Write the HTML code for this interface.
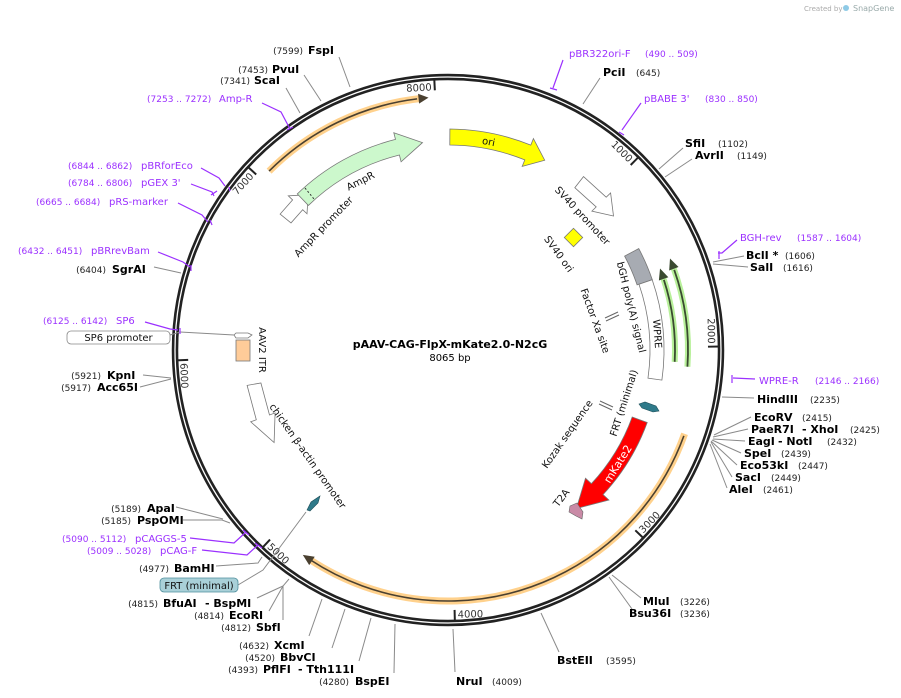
<!DOCTYPE html>
<html><head><meta charset="utf-8"><style>
html,body{margin:0;padding:0;background:#fff}
svg{display:block;font-family:"DejaVu Sans","Liberation Sans",sans-serif}
.n{font-size:9px;fill:#222}
.e{font-size:11px;font-weight:bold;fill:#000}
.p{font-size:10px;fill:#9b30ff}
.pn{font-size:9px;fill:#9b30ff}
.l{stroke:#8a8a8a;stroke-width:1;fill:none}
.pl{stroke:#9b30ff;stroke-width:1.2;fill:none}
.f{font-size:10px;fill:#111}
.t{font-size:10px;fill:#333}
</style></head><body>
<svg width="901" height="698" viewBox="0 0 901 698" xmlns="http://www.w3.org/2000/svg">
<text x="804" y="11" style="font-size:7px;fill:#aaa">Created by</text>
<text x="853" y="11" style="font-size:8px;fill:#9aa">SnapGene</text>
<circle cx="846" cy="8" r="3" fill="#8ecae6"/>

<!-- ring -->
<circle cx="448" cy="350" r="273" fill="none" stroke="#222" stroke-width="6.5"/>
<circle cx="448" cy="350" r="273" fill="none" stroke="#fff" stroke-width="1.3"/>

<!-- ticks -->
<g transform="rotate(44.64 448 350)"><line x1="448" y1="78" x2="448" y2="90" stroke="#222" stroke-width="2"/><text class="t" x="445" y="90" text-anchor="end">1000</text></g>
<g transform="rotate(89.27 448 350)"><line x1="448" y1="78" x2="448" y2="90" stroke="#222" stroke-width="2"/><text class="t" x="445" y="90" text-anchor="end">2000</text></g>
<g transform="rotate(-47.54 448 350)"><line x1="448" y1="78" x2="448" y2="90" stroke="#222" stroke-width="2"/><text class="t" x="445" y="90" text-anchor="end">7000</text></g>
<g transform="rotate(-2.9 448 350)"><line x1="448" y1="78" x2="448" y2="90" stroke="#222" stroke-width="2"/><text class="t" x="445" y="90" text-anchor="end">8000</text></g>
<g transform="rotate(133.91 448 350)"><line x1="448" y1="78" x2="448" y2="90" stroke="#222" stroke-width="2"/><text class="t" x="445" y="82" transform="rotate(180 445 82)">3000</text></g>
<g transform="rotate(178.55 448 350)"><line x1="448" y1="78" x2="448" y2="90" stroke="#222" stroke-width="2"/><text class="t" x="445" y="82" transform="rotate(180 445 82)">4000</text></g>
<g transform="rotate(223.19 448 350)"><line x1="448" y1="78" x2="448" y2="90" stroke="#222" stroke-width="2"/><text class="t" x="445" y="82" transform="rotate(180 445 82)">5000</text></g>
<g transform="rotate(267.82 448 350)"><line x1="448" y1="78" x2="448" y2="90" stroke="#222" stroke-width="2"/><text class="t" x="445" y="82" transform="rotate(180 445 82)">6000</text></g>

<!-- orange arcs -->
<circle cx="448" cy="350" r="253" fill="none" stroke="#ffd18c" stroke-width="7" pathLength="360" stroke-dasharray="39 400" transform="rotate(225 448 350)"/>
<circle cx="448" cy="350" r="253" fill="none" stroke="#4a4030" stroke-width="1.6" pathLength="360" stroke-dasharray="38 400" transform="rotate(225 448 350)"/>
<g transform="rotate(354 448 350)"><polygon points="455,97 445,92 445,102" fill="#4a4030"/></g>
<circle cx="448" cy="350" r="251" fill="none" stroke="#ffd18c" stroke-width="7" pathLength="360" stroke-dasharray="104 400" transform="rotate(19.5 448 350)"/>
<circle cx="448" cy="350" r="251" fill="none" stroke="#4a4030" stroke-width="1.6" pathLength="360" stroke-dasharray="103.5 400" transform="rotate(20 448 350)"/>
<g transform="rotate(213.5 448 350)"><polygon points="456,99 445,94 445,104" fill="#4a4030"/></g>

<!-- green arcs -->
<circle cx="448" cy="350" r="227" fill="none" stroke="#b8f09a" stroke-width="6" pathLength="360" stroke-dasharray="22 400" transform="rotate(-19 448 350)"/>
<circle cx="448" cy="350" r="227" fill="none" stroke="#3a4a30" stroke-width="1.8" pathLength="360" stroke-dasharray="21 400" transform="rotate(-18 448 350)"/>
<g transform="rotate(71 448 350)"><polygon points="440,123 451,118 451,128" fill="#3a4a30"/></g>
<circle cx="448" cy="350" r="240" fill="none" stroke="#b8f09a" stroke-width="6" pathLength="360" stroke-dasharray="24.5 400" transform="rotate(-20.5 448 350)"/>
<circle cx="448" cy="350" r="240" fill="none" stroke="#3a4a30" stroke-width="1.8" pathLength="360" stroke-dasharray="23.5 400" transform="rotate(-19.5 448 350)"/>
<g transform="rotate(69.5 448 350)"><polygon points="440,110 451,105 451,115" fill="#3a4a30"/></g>

<!-- ori -->
<path d="M449.9,129 A221 221 0 0 1 530.8,145.1 L533.4,138.6 L544.7,160.2 L522.2,166.4 L524.8,159.9 A205 205 0 0 0 449.8,145 Z" fill="#ffff00" stroke="#777" stroke-width="0.8"/>
<text class="f" x="488" y="145" text-anchor="middle" transform="rotate(11 488 145)">ori</text>

<!-- AmpR promoter + AmpR -->
<path d="M280.1,214.1 L292.6,199.9 L288.3,195.8 L308.2,194.7 L307,213.8 L302.7,209.7 L291,222.9 Z" fill="#fff" stroke="#777" stroke-width="0.8"/>
<path d="M297.3,193.9 A217 217 0 0 1 395.5,139.4 L393.8,132.7 L422.5,142.6 L401.1,161.8 L399.4,155 A201 201 0 0 0 308.4,205.4 Z" fill="#ccf8cc" stroke="#777" stroke-width="0.8"/>
<line x1="305" y1="188" x2="314" y2="199" stroke="#333" stroke-dasharray="2 2"/>
<text class="f" x="362" y="184" text-anchor="middle" transform="rotate(-27 362 184)">AmpR</text>
<text class="f" x="326" y="229" text-anchor="middle" transform="rotate(-46 326 229)">AmpR promoter</text>

<!-- SV40 promoter -->
<path d="M583.5,176.6 L606.2,197.2 L610.6,193 L613.5,216 L591.9,211.1 L596.2,206.9 L574.8,187.7 Z" fill="#fff" stroke="#777" stroke-width="0.8"/>
<text class="f" x="580" y="218" text-anchor="middle" transform="rotate(47 580 218)">SV40 promoter</text>
<rect x="567" y="231" width="13" height="13" fill="#ffff00" stroke="#777" stroke-width="0.8" transform="rotate(45 573.5 237.5)"/>
<text class="f" x="556" y="256" text-anchor="middle" transform="rotate(54 556 256)">SV40 ori</text>

<!-- bGH -->
<path d="M635.1,242 A216 216 0 0 1 649.7,272.6 L634.7,278.3 A200 200 0 0 0 621.2,250 Z" fill="#a7abb2" stroke="#777" stroke-width="0.8" transform="rotate(2 448 350)"/>
<text class="f" x="628" y="308" text-anchor="middle" transform="rotate(76 628 308)">bGH poly(A) signal</text>
<!-- WPRE -->
<path d="M652.2,279.7 A216 216 0 0 1 661.9,380.1 L648,378.1 A202 202 0 0 0 639,284.2 Z" fill="#fff" stroke="#777" stroke-width="0.8"/>
<text class="f" x="654" y="334" text-anchor="middle" transform="rotate(86 654 334)">WPRE</text>

<!-- Factor Xa, Kozak -->
<g stroke="#666" stroke-width="1"><line x1="605" y1="318" x2="618" y2="312"/><line x1="606" y1="321" x2="619" y2="315"/>
<line x1="600" y1="401" x2="613" y2="407"/><line x1="599" y1="404" x2="612" y2="410"/></g>
<text class="f" x="592" y="322" text-anchor="middle" transform="rotate(70 592 322)">Factor Xa site</text>
<text class="f" x="570" y="436" text-anchor="middle" transform="rotate(-55 570 436)">Kozak sequence</text>
<text class="f" x="627" y="404" text-anchor="middle" transform="rotate(-72 627 404)">FRT (minimal)</text>

<!-- mKate2 -->
<path d="M647.2,422.5 A212 212 0 0 1 603,494.6 L608.9,500 L576.4,508.5 L585.5,478.2 L591.4,483.7 A196 196 0 0 0 632.2,417 Z" fill="#ff0000" stroke="#777" stroke-width="0.8"/>
<polygon points="639,404 645,402 656,406 659,411 653,412 642,408" fill="#2f7a8a" stroke="#1d4e58" stroke-width="0.6"/>
<text x="621" y="466" text-anchor="middle" transform="rotate(-58 621 466)" style="font-size:11px;fill:#fff">mKate2</text>
<polygon points="570,506 577,503 583,512 582,519 576,516 569,512" fill="#c98aa6" stroke="#666" stroke-width="0.6"/>
<text class="f" x="564" y="500" text-anchor="middle" transform="rotate(-52 564 500)">T2A</text>

<!-- chicken beta-actin -->
<path d="M247.1,385.4 L256.3,419.8 L250.7,421.8 L274.1,442.5 L275.1,412.9 L269.5,415 L260.9,383 Z" fill="#fff" stroke="#777" stroke-width="0.8"/>
<text class="f" x="305" y="458" text-anchor="middle" transform="rotate(55 305 458)">chicken β-actin promoter</text>
<polygon points="307,510 311,502 320,496 318,503 310,511" fill="#2f7a8a" stroke="#1d4e58" stroke-width="0.6"/>
<polyline class="l" points="306,512 263,570 238,585"/>

<!-- AAV2 ITR -->
<polygon points="236,333 248,333 252,335 248,338 236,338 234,335" fill="#fff" stroke="#777" stroke-width="0.8"/>
<rect x="236" y="340" width="14" height="21" fill="#ffcc99" stroke="#777" stroke-width="0.8"/>
<text class="f" x="259" y="350" text-anchor="middle" transform="rotate(90 259 350)">AAV2 ITR</text>
<line class="l" x1="180" y1="332" x2="234" y2="335"/>

<!-- center -->
<text x="450" y="348" text-anchor="middle" style="font-size:11px;font-weight:bold">pAAV-CAG-FlpX-mKate2.0-N2cG</text>
<text x="450" y="361" text-anchor="middle" style="font-size:10px">8065 bp</text>

<!-- TOP LEFT labels -->
<line class="l" x1="339" y1="57" x2="350" y2="87"/>
<text class="n" x="303" y="54" text-anchor="end">(7599)</text><text class="e" x="308" y="54">FspI</text>
<line class="l" x1="304" y1="75" x2="321" y2="101"/>
<text class="n" x="268" y="73" text-anchor="end">(7453)</text><text class="e" x="272" y="73">PvuI</text>
<line class="l" x1="286" y1="88" x2="300" y2="113"/>
<text class="n" x="250" y="84" text-anchor="end">(7341)</text><text class="e" x="254" y="84">ScaI</text>
<polyline class="pl" points="262,103 281,112 290,129"/><line class="pl" x1="287" y1="130" x2="293" y2="127"/>
<text class="pn" x="147" y="102">(7253 .. 7272)</text><text class="p" x="219" y="102">Amp-R</text>

<!-- TOP RIGHT -->
<polyline class="pl" points="563,60 553,88"/><line class="pl" x1="550" y1="88" x2="557" y2="90"/>
<text class="p" x="569" y="57">pBR322ori-F</text><text class="pn" x="645" y="57">(490 .. 509)</text>
<line class="l" x1="600" y1="78" x2="583" y2="104"/>
<text class="e" x="603" y="76">PciI</text><text class="n" x="636" y="76">(645)</text>
<polyline class="pl" points="641,103 622,130"/><line class="pl" x1="619" y1="132" x2="624" y2="135"/>
<text class="p" x="644" y="102">pBABE 3'</text><text class="pn" x="705" y="102">(830 .. 850)</text>
<line class="l" x1="683" y1="148" x2="659" y2="169"/>
<text class="e" x="685" y="147">SfiI</text><text class="n" x="718" y="147">(1102)</text>
<line class="l" x1="692" y1="159" x2="665" y2="177"/>
<text class="e" x="695" y="159">AvrII</text><text class="n" x="737" y="159">(1149)</text>

<!-- RIGHT -->
<polyline class="pl" points="737,240 722,253 718,253"/><line class="pl" x1="719" y1="251" x2="719" y2="259"/>
<text class="p" x="740" y="241">BGH-rev</text><text class="pn" x="797" y="241">(1587 .. 1604)</text>
<line class="l" x1="744" y1="256" x2="713" y2="262"/><line class="l" x1="748" y1="267" x2="713" y2="264"/>
<text class="e" x="746" y="259">BclI *</text><text class="n" x="785" y="259">(1606)</text>
<text class="e" x="750" y="271">SalI</text><text class="n" x="783" y="271">(1616)</text>
<polyline class="pl" points="755,379 733,378"/><line class="pl" x1="732" y1="375" x2="732" y2="383"/>
<text class="p" x="759" y="384">WPRE-R</text><text class="pn" x="815" y="384">(2146 .. 2166)</text>
<line class="l" x1="754" y1="398" x2="722" y2="397"/>
<text class="e" x="757" y="403">HindIII</text><text class="n" x="810" y="403">(2235)</text>
<g class="l"><line x1="751" y1="417" x2="714" y2="435"/><line x1="748" y1="429" x2="713" y2="437"/><line x1="745" y1="441" x2="713" y2="439"/><line x1="741" y1="453" x2="712" y2="440"/><line x1="737" y1="465" x2="711" y2="441"/><line x1="732" y1="477" x2="711" y2="442"/><line x1="727" y1="488" x2="710" y2="444"/></g>
<text class="e" x="754" y="421">EcoRV</text><text class="n" x="802" y="421">(2415)</text>
<text class="e" x="751" y="433">PaeR7I</text><text class="e" x="802" y="433">- XhoI</text><text class="n" x="850" y="433">(2425)</text>
<text class="e" x="748" y="445">EagI</text><text class="e" x="778" y="445">- NotI</text><text class="n" x="827" y="445">(2432)</text>
<text class="e" x="744" y="457">SpeI</text><text class="n" x="781" y="457">(2439)</text>
<text class="e" x="740" y="469">Eco53kI</text><text class="n" x="798" y="469">(2447)</text>
<text class="e" x="735" y="481">SacI</text><text class="n" x="771" y="481">(2449)</text>
<text class="e" x="729" y="493">AleI</text><text class="n" x="763" y="493">(2461)</text>

<!-- BOTTOM RIGHT -->
<line class="l" x1="641" y1="598" x2="612" y2="575"/><line class="l" x1="632" y1="609" x2="609" y2="577"/>
<text class="e" x="643" y="605">MluI</text><text class="n" x="680" y="605">(3226)</text>
<text class="e" x="629" y="617">Bsu36I</text><text class="n" x="680" y="617">(3236)</text>
<line class="l" x1="559" y1="652" x2="541" y2="613"/>
<text class="e" x="557" y="664">BstEII</text><text class="n" x="606" y="664">(3595)</text>
<line class="l" x1="455" y1="672" x2="453" y2="629"/>
<text class="e" x="456" y="685">NruI</text><text class="n" x="492" y="685">(4009)</text>

<!-- BOTTOM LEFT -->
<line class="l" x1="394" y1="673" x2="395" y2="624"/>
<text class="n" x="349" y="685" text-anchor="end">(4280)</text><text class="e" x="355" y="685">BspEI</text>
<line class="l" x1="359" y1="661" x2="371" y2="618"/>
<text class="n" x="258" y="673" text-anchor="end">(4393)</text><text class="e" x="263" y="673">PflFI</text><text class="e" x="298" y="673">- Tth111I</text>
<line class="l" x1="332" y1="648" x2="345" y2="609"/>
<text class="n" x="275" y="661" text-anchor="end">(4520)</text><text class="e" x="280" y="661">BbvCI</text>
<line class="l" x1="309" y1="636" x2="322" y2="599"/>
<text class="n" x="269" y="649" text-anchor="end">(4632)</text><text class="e" x="274" y="649">XcmI</text>
<polyline class="l" points="283,620 283,586 289,579"/><line class="l" x1="269" y1="611" x2="283" y2="586"/><line class="l" x1="257" y1="598" x2="283" y2="586"/>
<text class="n" x="251" y="631" text-anchor="end">(4812)</text><text class="e" x="256" y="631">SbfI</text>
<text class="n" x="224" y="619" text-anchor="end">(4814)</text><text class="e" x="229" y="619">EcoRI</text>
<text class="n" x="158" y="607" text-anchor="end">(4815)</text><text class="e" x="163" y="607">BfuAI</text><text class="e" x="205" y="607">- BspMI</text>
<rect x="160" y="578" width="78" height="14" rx="4" fill="#a9d0d8" stroke="#4f8e9c" stroke-width="0.8"/>
<text class="f" x="199" y="589" text-anchor="middle">FRT (minimal)</text>
<polyline class="l" points="216,566 258,563 262,557"/>
<text class="n" x="169" y="572" text-anchor="end">(4977)</text><text class="e" x="174" y="572">BamHI</text>
<polyline class="pl" points="202,550 247,555 258,545"/><line class="pl" x1="255" y1="543" x2="262" y2="548"/>
<text class="pn" x="87" y="554">(5009 .. 5028)</text><text class="p" x="160" y="554">pCAG-F</text>
<polyline class="pl" points="190,538 234,543 246,532"/><line class="pl" x1="243" y1="530" x2="249" y2="535"/>
<text class="pn" x="62" y="542">(5090 .. 5112)</text><text class="p" x="135" y="542">pCAGGS-5</text>
<polyline class="l" points="183,520 222,520 230,523"/><polyline class="l" points="176,507 223,519"/>
<text class="n" x="131" y="524" text-anchor="end">(5185)</text><text class="e" x="137" y="524">PspOMI</text>
<text class="n" x="141" y="512" text-anchor="end">(5189)</text><text class="e" x="147" y="512">ApaI</text>

<!-- LEFT -->
<line class="l" x1="143" y1="375" x2="171" y2="378"/><line class="l" x1="140" y1="387" x2="171" y2="379"/>
<text class="n" x="101" y="379" text-anchor="end">(5921)</text><text class="e" x="107" y="379">KpnI</text>
<text class="n" x="91" y="391" text-anchor="end">(5917)</text><text class="e" x="97" y="391">Acc65I</text>
<rect x="67" y="331" width="103" height="13" rx="4" fill="#fff" stroke="#888" stroke-width="0.8"/>
<text class="f" x="118.5" y="341" text-anchor="middle">SP6 promoter</text>
<line class="l" x1="170" y1="335" x2="180" y2="332"/>
<polyline class="pl" points="145,322 170,329 178,330"/><line class="pl" x1="180" y1="328" x2="180" y2="334"/>
<text class="pn" x="43" y="324">(6125 .. 6142)</text><text class="p" x="116" y="324">SP6</text>
<line class="l" x1="154" y1="267" x2="181" y2="273"/>
<text class="n" x="106" y="273" text-anchor="end">(6404)</text><text class="e" x="112" y="273">SgrAI</text>
<polyline class="pl" points="158,252 183,262 190,267"/><line class="pl" x1="191" y1="265" x2="191" y2="271"/>
<text class="pn" x="18" y="254">(6432 .. 6451)</text><text class="p" x="91" y="254">pBRrevBam</text>
<polyline class="pl" points="178,203 202,215 208,222"/><line class="pl" x1="210" y1="220" x2="212" y2="225"/>
<text class="pn" x="36" y="205">(6665 .. 6684)</text><text class="p" x="109" y="205">pRS-marker</text>
<polyline class="pl" points="191,184 212,192 214,196"/><line class="pl" x1="211" y1="195" x2="217" y2="191"/>
<text class="pn" x="68" y="186">(6784 .. 6806)</text><text class="p" x="141" y="186">pGEX 3'</text>
<polyline class="pl" points="201,168 219,178 225,186"/><line class="pl" x1="229" y1="187" x2="230" y2="191"/>
<text class="pn" x="68" y="169">(6844 .. 6862)</text><text class="p" x="141" y="169">pBRforEco</text>
</svg>
</body></html>
